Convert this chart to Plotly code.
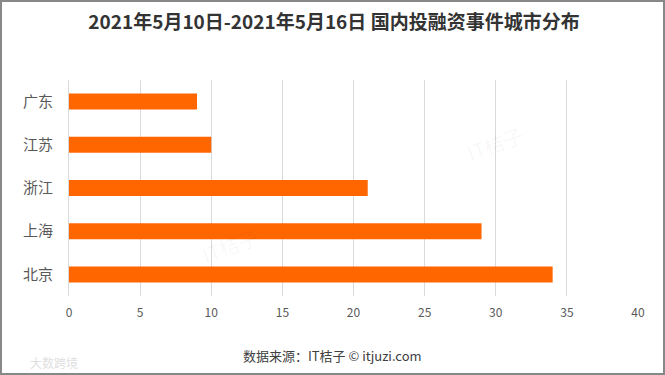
import plotly.graph_objects as go

cities = ["广东", "江苏", "浙江", "上海", "北京"]
counts = [9, 10, 21, 29, 34]
x_ticks = [0, 5, 10, 15, 20, 25, 30, 35, 40]

W, H = 665, 375
L, R, T, B = 69, 27, 80, 79
pw, ph = W - L - R, H - T - B

fig = go.Figure(go.Bar(
    y=cities, x=counts, orientation="h",
    marker=dict(color="#FF6600", line=dict(width=0)),
    width=0.37,
))

fig.update_layout(
    width=W, height=H,
    margin=dict(l=L, r=R, t=T, b=B),
    paper_bgcolor="white", plot_bgcolor="white",
    font=dict(family="Noto Sans CJK SC, Microsoft YaHei, sans-serif", color="#595959"),
    showlegend=False,
    title=dict(
        text="2021年5月10日-2021年5月16日 国内投融资事件城市分布",
        x=(334 - L) / pw, xref="paper", xanchor="center", y=1 - 22 / H, yanchor="middle",
        font=dict(size=19, color="#333333", family="Noto Sans CJK SC, sans-serif", weight="bold"),
    ),
    xaxis=dict(
        range=[0, 40], tickvals=x_ticks, showgrid=True, gridcolor="#D9D9D9", gridwidth=1,
        zeroline=False, showline=False, ticks="", tickfont=dict(size=12, color="#595959"),
        ticklabelstandoff=8, fixedrange=True,
    ),
    yaxis=dict(
        autorange="reversed", showgrid=False, zeroline=False,
        showline=True, linecolor="#D9D9D9", linewidth=1,
        tickfont=dict(size=15, color="#595959"), ticks="", ticklabelstandoff=12,
        fixedrange=True,
    ),
    annotations=[
        dict(text="数据来源：IT桔子 © itjuzi.com", xref="paper", yref="paper",
             x=(332 - L) / pw, y=-(355 - (T + ph)) / ph, xanchor="center", yanchor="middle",
             showarrow=False, font=dict(size=13, color="#404040")),
        dict(text="大数跨境", xref="paper", yref="paper",
             x=(28 - L) / pw, y=-(362 - (T + ph)) / ph, xanchor="left", yanchor="middle",
             showarrow=False, font=dict(size=12, color="#E0E0E0")),
        dict(text="IT桔子", xref="paper", yref="paper",
             x=(495 - L) / pw, y=1 - (143 - T) / ph, xanchor="center", yanchor="middle",
             showarrow=False, textangle=-20, font=dict(size=20, color="rgba(0,0,0,0.04)")),
        dict(text="IT桔子", xref="paper", yref="paper",
             x=(230 - L) / pw, y=1 - (245 - T) / ph, xanchor="center", yanchor="middle",
             showarrow=False, textangle=-20, font=dict(size=20, color="rgba(0,0,0,0.04)")),
    ],
    shapes=[
        dict(type="rect", xref="paper", yref="paper",
             x0=(1 - L) / pw, x1=(W - 1 - L) / pw,
             y0=-(H - 1 - (T + ph)) / ph, y1=1 + (T - 1) / ph,
             line=dict(color="#888888", width=2), fillcolor="rgba(0,0,0,0)", layer="below"),
    ],
)

fig.write_html("out.html", config={"displayModeBar": False},
               post_script="document.body.style.margin='0';document.body.style.padding='0';")
